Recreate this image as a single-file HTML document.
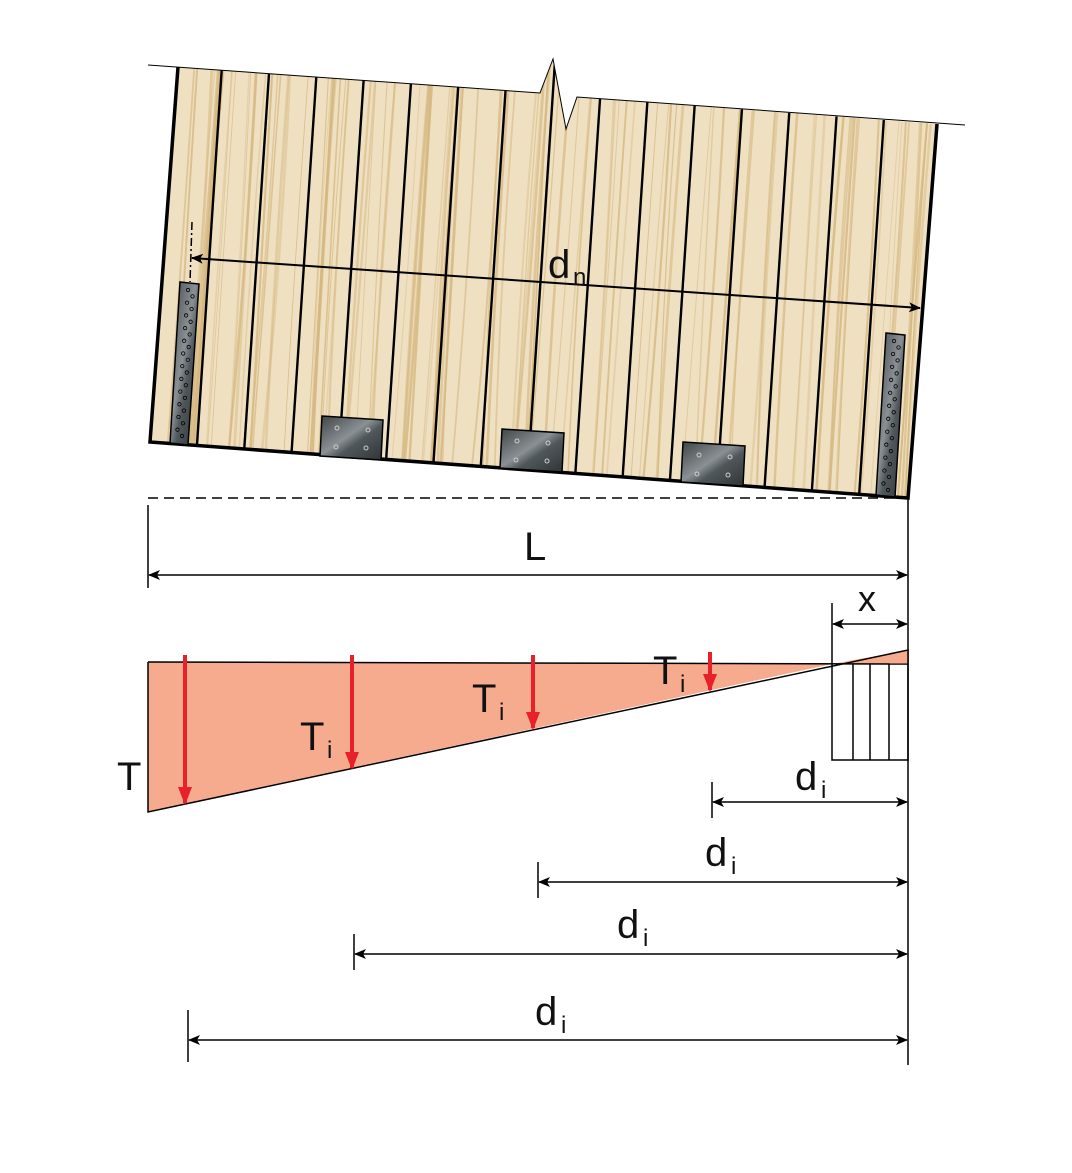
<!DOCTYPE html>
<html><head><meta charset="utf-8"><style>
html,body{margin:0;padding:0;background:#fff;}
svg{display:block;}
text{font-family:"Liberation Sans",sans-serif;fill:#111;}
</style></head><body>
<svg id="s" width="1072" height="1173" viewBox="0 0 1072 1173" xmlns="http://www.w3.org/2000/svg">
<defs>
<clipPath id="wc"><polygon points="178,67 540,93 553,59 566,129 577,97 937,124 908,498 150,442"/></clipPath>
<marker id="ah" viewBox="0 0 12 10" refX="11" refY="5" markerWidth="12" markerHeight="10" orient="auto-start-reverse" markerUnits="userSpaceOnUse"><path d="M0,0 L12,5 L0,10 L3,5 Z" fill="#000"/></marker>
<marker id="rh" viewBox="0 0 18 14" refX="16" refY="7" markerWidth="18" markerHeight="14" orient="auto" markerUnits="userSpaceOnUse"><path d="M0,0 L18,7 L0,14 Z" fill="#e8202a"/></marker>
<linearGradient id="mg" x1="0" y1="0" x2="1" y2="1"><stop offset="0" stop-color="#3f4446"/><stop offset="0.45" stop-color="#8a9094"/><stop offset="0.6" stop-color="#50575a"/><stop offset="1" stop-color="#2f3436"/></linearGradient>
</defs>
<polygon points="178,67 540,93 553,59 566,129 577,97 937,124 908,498 150,442" fill="#efe0c2"/>
<g id="grain" clip-path="url(#wc)" stroke="#d4b57c" fill="none"></g>
<g id="boards" clip-path="url(#wc)" stroke="#000" stroke-width="2.4"></g>
<polyline points="148,65 540,93 553,59 566,129 577,97 965,125" fill="none" stroke="#000" stroke-width="1"/>
<polyline points="178,67 150,442 908,498 937,124" fill="none" stroke="#000" stroke-width="3.5"/>
<polygon points="180,282 199,284 188,445 170,443" fill="url(#mg)" stroke="#000" stroke-width="1.5"/>
<polygon points="886,333 905,335 895,497 876,495" fill="url(#mg)" stroke="#000" stroke-width="1.5"/>
<g id="holes" fill="none" stroke="#000" stroke-width="0.8"></g>
<polygon points="322,416 383,420 381,460 320,456" fill="url(#mg)" stroke="#000" stroke-width="1.5"/>
<polygon points="502,429 564,433 562,472 500,468" fill="url(#mg)" stroke="#000" stroke-width="1.5"/>
<polygon points="683,442 745,446 743,486 681,482" fill="url(#mg)" stroke="#000" stroke-width="1.5"/>
<g fill="none" stroke="#ccc" stroke-width="1">
<circle cx="337" cy="428" r="2"/><circle cx="368" cy="430" r="2"/><circle cx="336" cy="447" r="2"/><circle cx="366" cy="448" r="2"/>
<circle cx="517" cy="441" r="2"/><circle cx="548" cy="443" r="2"/><circle cx="516" cy="460" r="2"/><circle cx="547" cy="461" r="2"/>
<circle cx="699" cy="455" r="2"/><circle cx="730" cy="457" r="2"/><circle cx="697" cy="474" r="2"/><circle cx="728" cy="475" r="2"/>
</g>
<line x1="192" y1="222" x2="190" y2="282" stroke="#000" stroke-width="1.5" stroke-dasharray="8,3,2,3"/>
<line x1="192" y1="258" x2="920" y2="308" stroke="#000" stroke-width="2" marker-start="url(#ah)" marker-end="url(#ah)"/>
<text x="548" y="278" font-size="40">d</text><text x="573" y="285" font-size="24">n</text>
<line x1="148" y1="498" x2="908" y2="498" stroke="#000" stroke-width="1.5" stroke-dasharray="10,6"/>
<line x1="148" y1="505" x2="148" y2="588" stroke="#000" stroke-width="1.5"/>
<line x1="908" y1="498" x2="908" y2="1065" stroke="#000" stroke-width="1.5"/>
<line x1="149" y1="575" x2="907" y2="575" stroke="#000" stroke-width="1.5" marker-start="url(#ah)" marker-end="url(#ah)"/>
<text x="524" y="560" font-size="40">L</text>
<polygon points="148,662 832,664 148,812" fill="#f6ab8f"/>
<polygon points="832,664 908,650 908,664" fill="#f6ab8f"/>
<polyline points="148,662 908,664" fill="none" stroke="#000" stroke-width="1.5"/>
<polyline points="148,662 148,812 908,650 908,760 832,760 832,664" fill="none" stroke="#000" stroke-width="1.5"/>
<line x1="853" y1="664" x2="853" y2="760" stroke="#000" stroke-width="1.5"/>
<line x1="870" y1="664" x2="870" y2="760" stroke="#000" stroke-width="1.5"/>
<line x1="889" y1="664" x2="889" y2="760" stroke="#000" stroke-width="1.5"/>
<line x1="832" y1="603" x2="832" y2="664" stroke="#000" stroke-width="1.5"/>
<line x1="833" y1="624" x2="907" y2="624" stroke="#000" stroke-width="1.5" marker-start="url(#ah)" marker-end="url(#ah)"/>
<text x="858" y="611" font-size="36">x</text>
<g stroke="#e8202a" stroke-width="4">
<line x1="185" y1="655" x2="185" y2="803" marker-end="url(#rh)"/>
<line x1="352" y1="655" x2="352" y2="768" marker-end="url(#rh)"/>
<line x1="533" y1="655" x2="533" y2="728" marker-end="url(#rh)"/>
<line x1="710" y1="652" x2="710" y2="690" marker-end="url(#rh)"/>
</g>
<text x="117" y="790" font-size="40">T</text>
<text x="300" y="750" font-size="40">T</text><text x="327" y="758" font-size="24">i</text>
<text x="472" y="712" font-size="40">T</text><text x="499" y="720" font-size="24">i</text>
<text x="653" y="684" font-size="40">T</text><text x="680" y="692" font-size="24">i</text>
<g stroke="#000" stroke-width="1.5">
<line x1="712" y1="782" x2="712" y2="818"/><line x1="713" y1="802" x2="907" y2="802" marker-start="url(#ah)" marker-end="url(#ah)"/>
<line x1="538" y1="862" x2="538" y2="898"/><line x1="539" y1="882" x2="907" y2="882" marker-start="url(#ah)" marker-end="url(#ah)"/>
<line x1="354" y1="934" x2="354" y2="970"/><line x1="355" y1="954" x2="907" y2="954" marker-start="url(#ah)" marker-end="url(#ah)"/>
<line x1="188" y1="1010" x2="188" y2="1062"/><line x1="189" y1="1040" x2="907" y2="1040" marker-start="url(#ah)" marker-end="url(#ah)"/>
</g>
<text x="795" y="790" font-size="40">d</text><text x="821" y="798" font-size="24">i</text>
<text x="705" y="866" font-size="40">d</text><text x="731" y="874" font-size="24">i</text>
<text x="617" y="938" font-size="40">d</text><text x="643" y="946" font-size="24">i</text>
<text x="535" y="1025" font-size="40">d</text><text x="561" y="1033" font-size="24">i</text>
</svg>
<script>
(function(){
var NS="http://www.w3.org/2000/svg";
function yt(x){return 65+(x-148)*60/817;}
function yb(x){return 442+(x-150)*56/758;}
var b=document.getElementById("boards"),g=document.getElementById("grain"),h=document.getElementById("holes");
for(var i=1;i<16;i++){var t=177+47.3*i;var l=document.createElementNS(NS,"line");
l.setAttribute("x1",t);l.setAttribute("y1",yt(t)-40);l.setAttribute("x2",t-28);l.setAttribute("y2",yb(t-28)+10);b.appendChild(l);}
var s=7;function r(){s=(s*9301+49297)%233280;return s/233280;}
for(var k=0;k<120;k++){var x=150+r()*800;var p=document.createElementNS(NS,"path");
var x2=x-30+(r()-0.5)*14,xm=x-15+(r()-0.5)*12;
p.setAttribute("d","M"+x+",50 Q"+xm+",280 "+x2+",520");p.setAttribute("stroke-width",(0.8+r()*2).toFixed(2));p.setAttribute("opacity",(0.35+r()*0.45).toFixed(2));g.appendChild(p);}
function holes(x0,y0,x1,y1,n){for(var j=0;j<n;j++){var f=j/(n-1);var c=document.createElementNS(NS,"circle");
c.setAttribute("cx",x0+(x1-x0)*f+(j%2?3:-2));c.setAttribute("cy",y0+(y1-y0)*f);c.setAttribute("r",1.7);h.appendChild(c);}}
holes(190,290,179,436,24);holes(896,341,885,490,24);
})();
</script>
</body></html>
